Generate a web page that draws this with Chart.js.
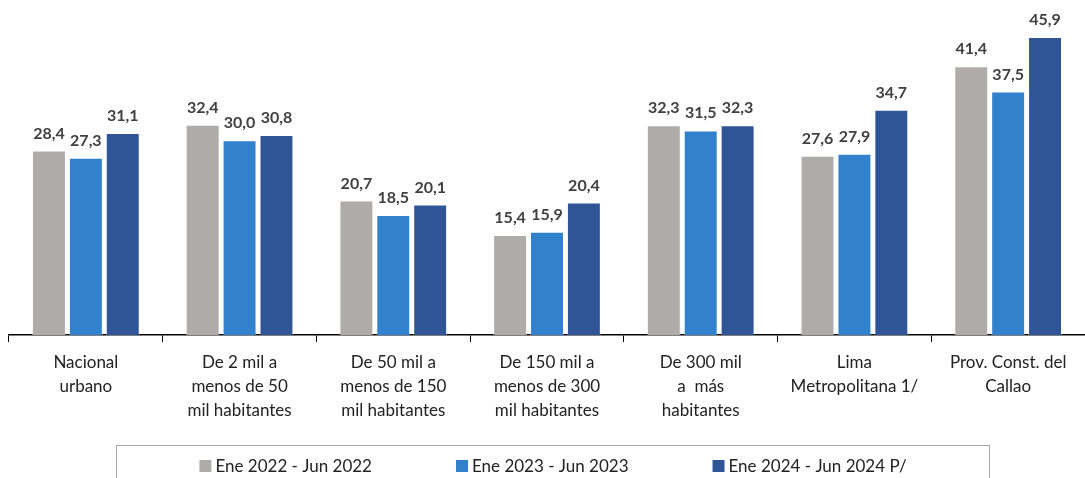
<!DOCTYPE html>
<html lang="es">
<head>
<meta charset="utf-8">
<title>Grafico</title>
<script src="https://cdn.jsdelivr.net/npm/chart.js@4/dist/chart.umd.min.js"></script>
<style>
  html, body { margin: 0; padding: 0; background: #fff; }
  #wrap { width: 1085px; height: 478px; position: relative; }
</style>
</head>
<body>
<div id="wrap"><canvas id="bar-chart"></canvas></div>
<script>
const categories = [
  ['Nacional', 'urbano'],
  ['De 2 mil a', 'menos de 50', 'mil habitantes'],
  ['De 50 mil a', 'menos de 150', 'mil habitantes'],
  ['De 150 mil a', 'menos de 300', 'mil habitantes'],
  ['De 300 mil', 'a  más', 'habitantes'],
  ['Lima', 'Metropolitana 1/'],
  ['Prov. Const. del', 'Callao'],
]
const seriesNames = ['Ene 2022 - Jun 2022', 'Ene 2023 - Jun 2023', 'Ene 2024 - Jun 2024 P/']
const values2022 = [28.4, 32.4, 20.7, 15.4, 32.3, 27.6, 41.4]
const values2023 = [27.3, 30.0, 18.5, 15.9, 31.5, 27.9, 37.5]
const values2024 = [31.1, 30.8, 20.1, 20.4, 32.3, 34.7, 45.9]
const colors = ['#AFABAB', '#3181CC', '#2F5597']

initChart()

function initChart() {
  const ctx = document.getElementById('bar-chart')
  const allValues = [values2022, values2023, values2024]

  new Chart(ctx, {
    type: 'bar',
    data: {
      labels: categories,
      datasets: allValues.map((values, i) => ({
        label: seriesNames[i],
        data: values,
        backgroundColor: colors[i],
        borderColor: 'rgba(255,255,255,0.35)',
        borderWidth: 1,
        barPercentage: 0.92,
        categoryPercentage: 0.72,
      })),
    },
    options: {
      responsive: true,
      maintainAspectRatio: false,
      animation: false,
      layout: { padding: { left: 9, right: 0, top: 0, bottom: 46 } },
      plugins: {
        legend: { display: false },
        tooltip: { enabled: false },
      },
      scales: {
        x: {
          grid: {
            display: true,
            drawOnChartArea: false,
            drawTicks: true,
            tickLength: 7,
            color: '#000',
            lineWidth: 1,
          },
          border: { display: true, color: '#000', width: 1.5 },
          ticks: {
            padding: 9,
            color: '#222',
            maxRotation: 0,
            autoSkip: false,
            font: { family: 'Lato', size: 17, lineHeight: '24px' },
          },
        },
        y: {
          display: false,
          min: 0,
          max: 51.6,
        },
      },
    },
    plugins: [valueLabels(), boxedLegend()],
  })
}

/**
 * Draws the value on top of every bar
 */
function valueLabels() {
  return {
    id: 'valueLabels',
    afterDatasetsDraw(chart) {
      const c = chart.ctx
      c.save()
      c.font = 'bold 16px Lato'
      c.fillStyle = '#404040'
      c.textAlign = 'center'
      c.textBaseline = 'alphabetic'
      chart.data.datasets.forEach((ds, i) => {
        chart.getDatasetMeta(i).data.forEach((bar, j) => {
          const text = ds.data[j].toFixed(1).replace('.', ',')
          c.fillText(text, bar.x, bar.y - 12)
        })
      })
      c.restore()
    },
  }
}

/**
 * Draws the legend inside a framed box under the axis
 */
function boxedLegend() {
  return {
    id: 'boxedLegend',
    afterDraw(chart) {
      const c = chart.ctx
      const area = chart.chartArea
      const box = 12
      const gap = 4
      const spacing = 84
      const margin = 83
      c.save()
      c.font = '17px Lato'
      const widths = chart.data.datasets.map((ds) => box + gap + c.measureText(ds.label).width)
      const total = widths.reduce((a, b) => a + b, 0) + spacing * (widths.length - 1)
      const center = (area.left + area.right) / 2 + 6
      const frameLeft = center - total / 2 - margin
      const frameTop = chart.height - 33
      c.strokeStyle = '#A6A6A6'
      c.lineWidth = 1
      c.strokeRect(Math.round(frameLeft) + 0.5, frameTop + 0.5, Math.round(total + margin * 2), 60)

      let x = center - total / 2
      const y = chart.height - 12
      c.textBaseline = 'middle'
      c.textAlign = 'left'
      chart.data.datasets.forEach((ds, i) => {
        c.fillStyle = ds.backgroundColor
        c.fillRect(x, y - box / 2, box, box)
        c.fillStyle = '#222'
        c.fillText(ds.label, x + box + gap, y + 1)
        x += widths[i] + spacing
      })
      c.restore()
    },
  }
}
</script>
</body>
</html>
